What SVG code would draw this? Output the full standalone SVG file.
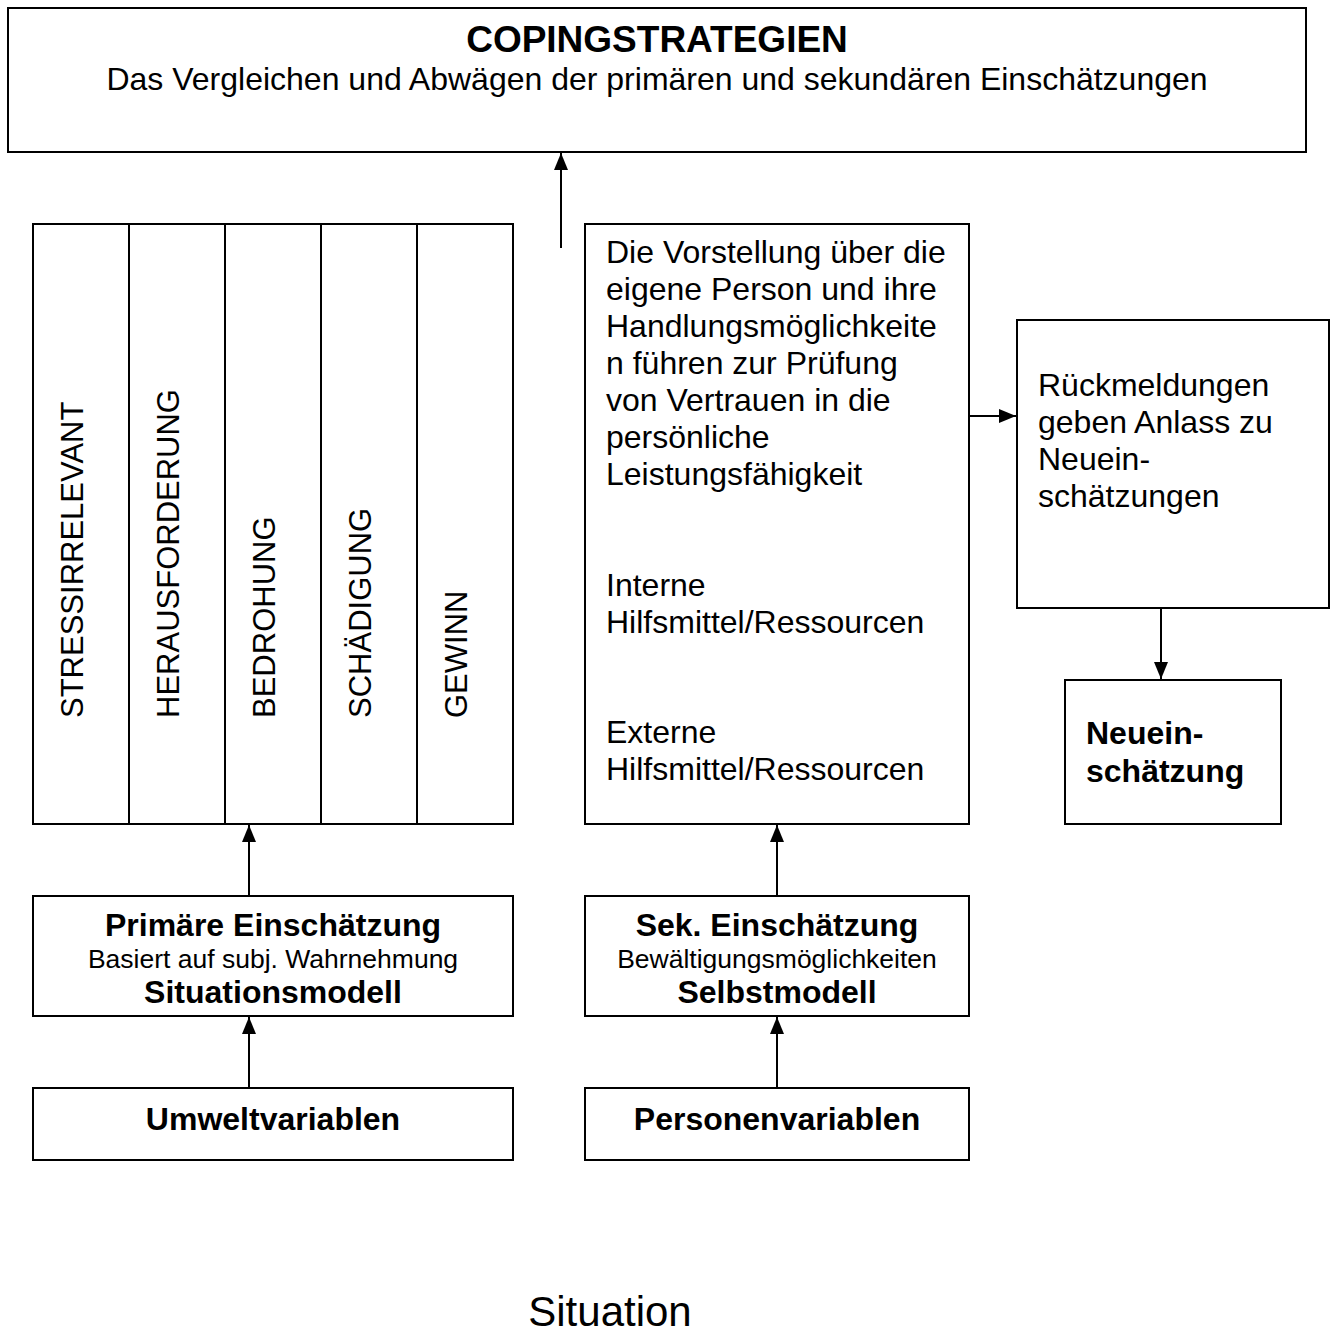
<svg xmlns="http://www.w3.org/2000/svg" width="1336" height="1335" viewBox="0 0 1336 1335">
  <style>
    text { font-family: "Liberation Sans", Arial, sans-serif; fill: #000; }
    .box { fill: #fff; stroke: #000; stroke-width: 2; }
    .div { stroke: #000; stroke-width: 2; }
    .t { font-size: 32px; }
    .b { font-size: 32px; font-weight: bold; }
    .s { font-size: 26.5px; }
    .v { font-size: 31px; }
    .c { text-anchor: middle; }
    .wire { stroke: #000; stroke-width: 2; fill: none; marker-end: url(#head); }
  </style>
  <defs>
    <marker id="head" viewBox="0 0 17 14" refX="17" refY="7" markerWidth="17" markerHeight="14" markerUnits="userSpaceOnUse" orient="auto">
      <path d="M0,0 L17,7 L0,14 Z" fill="#000"/>
    </marker>
  </defs>
  <rect width="1336" height="1335" fill="#fff"/>

  <g id="coping">
    <rect class="box" x="8" y="8" width="1298" height="144"/>
    <text class="c" x="657" y="52" style="font-size:37px;font-weight:bold">COPINGSTRATEGIEN</text>
    <text class="t c" x="657" y="90">Das Vergleichen und Abwägen der primären und sekundären Einschätzungen</text>
  </g>

  <g id="bewertung">
    <rect class="box" x="33" y="224" width="480" height="600"/>
    <line class="div" x1="129" y1="224" x2="129" y2="824"/>
    <line class="div" x1="225" y1="224" x2="225" y2="824"/>
    <line class="div" x1="321" y1="224" x2="321" y2="824"/>
    <line class="div" x1="417" y1="224" x2="417" y2="824"/>
    <text class="v" transform="translate(83,718) rotate(-90)">STRESSIRRELEVANT</text>
    <text class="v" transform="translate(179,718) rotate(-90)">HERAUSFORDERUNG</text>
    <text class="v" transform="translate(275,718) rotate(-90)">BEDROHUNG</text>
    <text class="v" transform="translate(371,718) rotate(-90)">SCHÄDIGUNG</text>
    <text class="v" transform="translate(467,718) rotate(-90)">GEWINN</text>
  </g>

  <g id="ressourcen">
    <rect class="box" x="585" y="224" width="384" height="600"/>
    <text class="t" x="606" y="263">Die Vorstellung über die</text>
    <text class="t" x="606" y="300">eigene Person und ihre</text>
    <text class="t" x="606" y="337">Handlungsmöglichkeite</text>
    <text class="t" x="606" y="374">n führen zur Prüfung</text>
    <text class="t" x="606" y="411">von Vertrauen in die</text>
    <text class="t" x="606" y="448">persönliche</text>
    <text class="t" x="606" y="485">Leistungsfähigkeit</text>
    <text class="t" x="606" y="596">Interne</text>
    <text class="t" x="606" y="633">Hilfsmittel/Ressourcen</text>
    <text class="t" x="606" y="743">Externe</text>
    <text class="t" x="606" y="780">Hilfsmittel/Ressourcen</text>
  </g>

  <g id="rueckmeldung">
    <rect class="box" x="1017" y="320" width="312" height="288"/>
    <text class="t" x="1038" y="396">Rückmeldungen</text>
    <text class="t" x="1038" y="433">geben Anlass zu</text>
    <text class="t" x="1038" y="470">Neuein-</text>
    <text class="t" x="1038" y="507">schätzungen</text>
  </g>

  <g id="neueinschaetzung">
    <rect class="box" x="1065" y="680" width="216" height="144"/>
    <text class="b" x="1086" y="744">Neuein-</text>
    <text class="b" x="1086" y="782">schätzung</text>
  </g>

  <g id="primaer">
    <rect class="box" x="33" y="896" width="480" height="120"/>
    <text class="b c" x="273" y="936">Primäre Einschätzung</text>
    <text class="s c" x="273" y="968">Basiert auf subj. Wahrnehmung</text>
    <text class="b c" x="273" y="1003">Situationsmodell</text>
  </g>

  <g id="sekundaer">
    <rect class="box" x="585" y="896" width="384" height="120"/>
    <text class="b c" x="777" y="936">Sek. Einschätzung</text>
    <text class="s c" x="777" y="968">Bewältigungsmöglichkeiten</text>
    <text class="b c" x="777" y="1003">Selbstmodell</text>
  </g>

  <g id="umwelt">
    <rect class="box" x="33" y="1088" width="480" height="72"/>
    <text class="b c" x="273" y="1130">Umweltvariablen</text>
  </g>

  <g id="person">
    <rect class="box" x="585" y="1088" width="384" height="72"/>
    <text class="b c" x="777" y="1130">Personenvariablen</text>
  </g>

  <text id="situation" class="c" x="610" y="1326" style="font-size:42px">Situation</text>

  <g id="connectors">
    <line class="wire" x1="561" y1="248" x2="561" y2="153"/>
    <line class="wire" x1="969" y1="416" x2="1016" y2="416"/>
    <line class="wire" x1="1161" y1="608" x2="1161" y2="679"/>
    <line class="wire" x1="249" y1="896" x2="249" y2="825"/>
    <line class="wire" x1="777" y1="896" x2="777" y2="825"/>
    <line class="wire" x1="249" y1="1088" x2="249" y2="1017"/>
    <line class="wire" x1="777" y1="1088" x2="777" y2="1017"/>
  </g>
</svg>
